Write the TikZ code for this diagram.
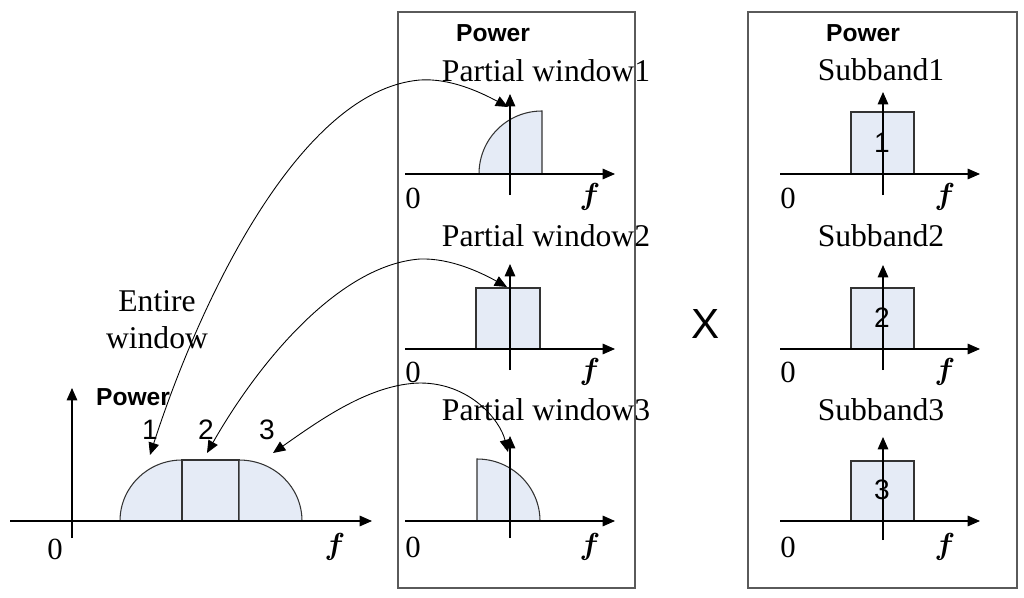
\documentclass[tikz,border=0pt]{standalone}
\usepackage{amsmath}
\usepackage{amsbsy}
\usepackage{fontspec}
\setmainfont{Liberation Serif}
\setsansfont{Liberation Sans}
\usepackage{tikz}
\usetikzlibrary{arrows.meta}
\usetikzlibrary{calc}
\definecolor{bandfill}{RGB}{229,235,246}
\definecolor{framegray}{RGB}{90,90,90}

\tikzset{
  axis/.style={line width=0.6pt,-{Triangle[length=7pt,width=6pt]}},
  band/.style={draw=black!80,line width=0.6pt,fill=bandfill},
  link/.style={line width=0.5pt,{Triangle[length=7pt,width=6pt]}-{Triangle[length=7pt,width=6pt]}},
  frame/.style={draw=framegray,line width=0.7pt},
  pwr/.style={font=\sffamily\bfseries\fontsize{14}{16}\selectfont},
  ttl/.style={font=\fontsize{18}{21}\selectfont,align=center},
  num/.style={font=\sffamily\fontsize{16}{18}\selectfont},
  zero/.style={font=\fontsize{17.5}{19}\selectfont},
  freq/.style={font=\fontsize{18}{20}\selectfont}
}
\newcommand{\freqsym}{$\boldsymbol{f}$}

\begin{document}
\begin{tikzpicture}[x=0.02cm,y=-0.02cm]
\useasboundingbox (0,0) rectangle (1024,598);

% frames
\draw [frame] (398,12) rectangle (635,588);
\draw [frame] (748,12) rectangle (1017,588);

% entire window
\draw [band] (120,521) .. controls (120,487) and (148,460) .. (182,460) -- (182,521) -- cycle;
\draw [band] (182,460) rectangle (239,521);
\draw [band] (239,460) .. controls (274,460) and (302,487) .. (302,521) -- (239,521) -- cycle;
\draw [axis] (10,521) -- (372,521);
\draw [axis] (72,538) -- (72,388);
\node [pwr] (pow0) at (133,397) {Power};
\node [num] (n1) at (150,430) {1};
\node [num] (n2) at (206,430) {2};
\node [num] (n3) at (267,430) {3};
\node [zero] (z0) at (55,549) {0};
\node [freq] (f0) at (335,547) {\freqsym};
\node [ttl] (ent) at (157,320) {Entire\\window};

% partial windows
\node [pwr] (pow1) at (493,33) {Power};
\node [ttl] (pw1) at (546,71) {Partial window1};
\draw [band] (479,174) .. controls (479,139) and (507,111) .. (542,111) -- (542,174) -- cycle;
\draw [axis] (405,174) -- (615,174);
\draw [axis] (510,195) -- (510,94);
\node [zero] (z1) at (413,198) {0};
\node [freq] (f1) at (590,197) {\freqsym};

\node [ttl] (pw2) at (546,236) {Partial window2};
\draw [band] (476,288) rectangle (540,349);
\draw [axis] (405,349) -- (615,349);
\draw [axis] (510,370) -- (510,264);
\node [zero] (z2) at (413,372) {0};
\node [freq] (f2) at (590,372) {\freqsym};

\node [ttl] (pw3) at (546,410) {Partial window3};
\draw [band] (477,459) .. controls (512,459) and (540,487) .. (540,521) -- (477,521) -- cycle;
\draw [axis] (405,521) -- (615,521);
\draw [axis] (510,538) -- (510,436);
\node [zero] (z3) at (413,547) {0};
\node [freq] (f3) at (590,547) {\freqsym};

% product sign
\node [font=\sffamily\fontsize{24}{26}\selectfont] (times) at (706,324) {X};

% subbands
\node [pwr] (pow2) at (863,33) {Power};
\node [ttl] (sb1) at (881,70) {Subband1};
\draw [band] (851,112) rectangle (914,174);
\draw [axis] (780,174) -- (980,174);
\draw [axis] (883,195) -- (883,92);
\node [num] (b1) at (882,143) {1};
\node [zero] (z4) at (788,198) {0};
\node [freq] (f4) at (945,197) {\freqsym};

\node [ttl] (sb2) at (881,236) {Subband2};
\draw [band] (851,288) rectangle (914,349);
\draw [axis] (780,349) -- (980,349);
\draw [axis] (883,370) -- (883,265);
\node [num] (b2) at (882,318) {2};
\node [zero] (z5) at (788,372) {0};
\node [freq] (f5) at (945,372) {\freqsym};

\node [ttl] (sb3) at (881,410) {Subband3};
\draw [band] (851,461) rectangle (914,521);
\draw [axis] (780,521) -- (980,521);
\draw [axis] (883,540) -- (883,437);
\node [num] (b3) at (882,490) {3};
\node [zero] (z6) at (788,547) {0};
\node [freq] (f6) at (945,547) {\freqsym};

% links between the windows
\coordinate (e1) at (150,455);
\coordinate (e2) at (207,453);
\coordinate (e3) at (273,453);
\coordinate (t1) at (508,107);
\coordinate (t2) at (507,287);
\coordinate (t3) at (508,452);
\draw [link] (e1) .. controls (200,300) and (300,90) .. (420,80) .. controls (450,78) and (480,92) .. (t1);
\draw [link] (e2) .. controls (260,360) and (340,265) .. (420,259) .. controls (450,258) and (480,272) .. (t2);
\draw [link] (e3) .. controls (320,420) and (370,384) .. (420,383) .. controls (470,383) and (500,420) .. (t3);
\end{tikzpicture}
\end{document}
